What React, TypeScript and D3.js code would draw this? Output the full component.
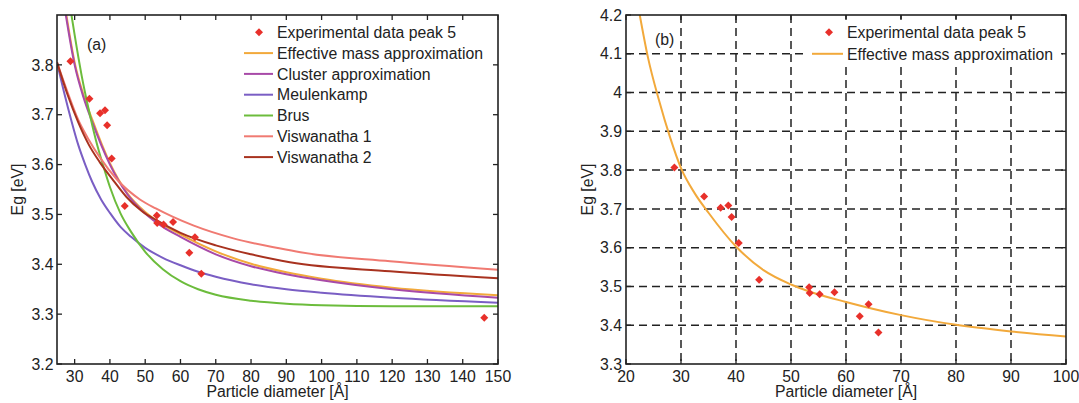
import React from 'react';
import * as d3 from 'd3';

// Experimental data peak 5
const expX = [28.8, 34.2, 37.2, 38.6, 39.2, 40.5, 44.2, 53.3, 53.4, 55.2, 57.9, 62.5, 64.1, 65.9, 146.1];
const expY = [3.807, 3.732, 3.703, 3.709, 3.679, 3.612, 3.517, 3.498, 3.483, 3.480, 3.485, 3.423, 3.454, 3.381, 3.293];

// Effective mass approximation
const emaX = [22.5, 24, 26, 28, 30, 32.5, 35, 40, 45, 50, 53.3, 60, 70, 80, 90, 100, 120, 150];
const emaY = [4.2, 4.09, 3.98, 3.885, 3.805, 3.74, 3.69, 3.603, 3.542, 3.505, 3.487, 3.46, 3.426, 3.401, 3.384, 3.371, 3.353, 3.338];

// Cluster approximation
const clusterX = [27.5, 30, 32.5, 35, 40, 45, 50, 55, 60, 70, 80, 90, 100, 120, 150];
const clusterY = [3.9, 3.8, 3.735, 3.685, 3.6, 3.54, 3.502, 3.475, 3.455, 3.42, 3.396, 3.38, 3.368, 3.35, 3.333];

// Meulenkamp
const meulX = [25, 27, 29, 31, 33, 35, 37.5, 40, 43, 46, 50, 55, 60, 65, 70, 80, 90, 100, 120, 150];
const meulY = [3.805, 3.745, 3.69, 3.64, 3.6, 3.565, 3.53, 3.503, 3.475, 3.455, 3.433, 3.413, 3.398, 3.385, 3.375, 3.36, 3.35, 3.343, 3.333, 3.323];

// Brus
const brusX = [29.1, 30, 32, 34, 36, 38, 40, 43, 46, 50, 55, 60, 65, 70, 80, 90, 100, 120, 150];
const brusY = [3.9, 3.86, 3.778, 3.71, 3.65, 3.6, 3.555, 3.502, 3.465, 3.425, 3.39, 3.366, 3.35, 3.339, 3.327, 3.321, 3.318, 3.316, 3.316];

// Viswanatha 1
const vis1X = [25, 28, 31, 34, 37.2, 42, 48.5, 53, 57.9, 63.6, 75, 88, 94, 119.4, 150];
const vis1Y = [3.805, 3.745, 3.69, 3.65, 3.614, 3.57, 3.53, 3.512, 3.495, 3.478, 3.452, 3.432, 3.424, 3.406, 3.389];

// Viswanatha 2
const vis2X = [25, 28, 31, 34, 37.2, 41, 44.7, 49, 53.3, 60, 70, 80, 91, 119.4, 150];
const vis2Y = [3.805, 3.74, 3.685, 3.64, 3.604, 3.568, 3.535, 3.507, 3.488, 3.463, 3.438, 3.42, 3.404, 3.386, 3.372];

const ticksAX = [30, 40, 50, 60, 70, 80, 90, 100, 110, 120, 130, 140, 150];
const ticksAY = [3.2, 3.3, 3.4, 3.5, 3.6, 3.7, 3.8];
const ticksBX = [20, 30, 40, 50, 60, 70, 80, 90, 100];
const ticksBY = [3.3, 3.4, 3.5, 3.6, 3.7, 3.8, 3.9, 4.0, 4.1, 4.2];

const legendA = ['Experimental data peak 5', 'Effective mass approximation', 'Cluster approximation', 'Meulenkamp', 'Brus', 'Viswanatha 1', 'Viswanatha 2'];
const legendB = ['Experimental data peak 5', 'Effective mass approximation'];

const RED = '#e8302a';
const colors: Record<string, string> = {
  ema: '#f2a93b',
  cluster: '#a84aa8',
  meul: '#7a5ec4',
  brus: '#6cbc3c',
  vis1: '#f07a72',
  vis2: '#a8321f',
};

const FONT = 'Liberation Sans, Arial, Helvetica, sans-serif';
const FS = 15.8;

function zip(xs: number[], ys: number[]): [number, number][] {
  return xs.map((x, i) => [x, ys[i]]);
}

function Diamond({ cx, cy }: { cx: number; cy: number }) {
  const r = 4;
  return <path d={`M${cx},${cy - r}L${cx + r},${cy}L${cx},${cy + r}L${cx - r},${cy}Z`} fill={RED} />;
}

const fmt = (v: number) => String(+v.toFixed(1));

export default function App() {
  // Panel a
  const L1 = 57, R1 = 498, T = 15, B = 364;
  const xA = d3.scaleLinear().domain([25, 150]).range([L1, R1]);
  const yA = d3.scaleLinear().domain([3.2, 3.9]).range([B, T]);
  // Panel b
  const L2 = 626, R2 = 1066;
  const xB = d3.scaleLinear().domain([20, 100]).range([L2, R2]);
  const yB = d3.scaleLinear().domain([3.3, 4.2]).range([B, T]);

  const lineA = d3.line<[number, number]>().x(d => xA(d[0])).y(d => yA(d[1])).curve(d3.curveMonotoneX);
  const lineB = d3.line<[number, number]>().x(d => xB(d[0])).y(d => yB(d[1])).curve(d3.curveMonotoneX);

  const seriesA = [
    { key: 'ema', xs: emaX, ys: emaY },
    { key: 'cluster', xs: clusterX, ys: clusterY },
    { key: 'meul', xs: meulX, ys: meulY },
    { key: 'brus', xs: brusX, ys: brusY },
    { key: 'vis1', xs: vis1X, ys: vis1Y },
    { key: 'vis2', xs: vis2X, ys: vis2Y },
  ];
  const tick = 5;

  return (
    <svg width={1079} height={403} style={{ position: 'absolute', left: 0, top: 0, background: '#fff' }} fontFamily={FONT} fontSize={FS}>
      <defs>
        <clipPath id="clipA"><rect x={L1} y={T} width={R1 - L1} height={B - T} /></clipPath>
        <clipPath id="clipB"><rect x={L2} y={T} width={R2 - L2} height={B - T} /></clipPath>
      </defs>

      {/* ===== Panel (a) ===== */}
      <g clipPath="url(#clipA)">
        {seriesA.map(s => (
          <path key={s.key} d={lineA(zip(s.xs, s.ys)) || ''} fill="none" stroke={colors[s.key]} strokeWidth={2} />
        ))}
        {expX.map((x, i) => <Diamond key={i} cx={xA(x)} cy={yA(expY[i])} />)}
      </g>
      <rect x={L1} y={T} width={R1 - L1} height={B - T} fill="none" stroke="#222" strokeWidth={1.6} />
      {ticksAX.map(v => (
        <g key={v}>
          <line x1={xA(v)} x2={xA(v)} y1={B} y2={B - tick} stroke="#222" strokeWidth={1.3} />
          <line x1={xA(v)} x2={xA(v)} y1={T} y2={T + tick} stroke="#222" strokeWidth={1.3} />
          <text x={xA(v)} y={381.5} textAnchor="middle" fill="#222">{v}</text>
        </g>
      ))}
      {ticksAY.map(v => (
        <g key={v}>
          <line x1={L1} x2={L1 + tick} y1={yA(v)} y2={yA(v)} stroke="#222" strokeWidth={1.3} />
          <line x1={R1} x2={R1 - tick} y1={yA(v)} y2={yA(v)} stroke="#222" strokeWidth={1.3} />
          <text x={53.5} y={yA(v) + 5.7} textAnchor="end" fill="#222">{fmt(v)}</text>
        </g>
      ))}
      <text x={(L1 + R1) / 2} y={397} textAnchor="middle" fill="#222">Particle diameter [Å]</text>
      <text transform={`translate(23,${(T + B) / 2}) rotate(-90)`} textAnchor="middle" fill="#222">Eg [eV]</text>
      <text x={87} y={50} fill="#222">(a)</text>
      {/* legend a */}
      <g>
        {legendA.map((lab, i) => {
          const y = 32.3 + i * 20.8;
          const key = ['exp', 'ema', 'cluster', 'meul', 'brus', 'vis1', 'vis2'][i];
          return (
            <g key={lab}>
              {key === 'exp'
                ? <Diamond cx={259} cy={y} />
                : <line x1={244} x2={273} y1={y} y2={y} stroke={colors[key]} strokeWidth={2} />}
              <text x={277} y={y + 5.7} fill="#222">{lab}</text>
            </g>
          );
        })}
      </g>

      {/* ===== Panel (b) ===== */}
      <g>
        {ticksBX.filter(v => v > 20 && v < 100).map(v => (
          <line key={v} x1={xB(v)} x2={xB(v)} y1={T} y2={B} stroke="#222" strokeWidth={1.5} strokeDasharray="8,5" />
        ))}
        {ticksBY.filter(v => v > 3.3 && v < 4.2).map(v => (
          <line key={v} x1={L2} x2={R2} y1={yB(v)} y2={yB(v)} stroke="#222" strokeWidth={1.5} strokeDasharray="8,5" />
        ))}
      </g>
      <g clipPath="url(#clipB)">
        <path d={lineB(zip(emaX, emaY)) || ''} fill="none" stroke={colors.ema} strokeWidth={2} />
        {expX.map((x, i) => <Diamond key={i} cx={xB(x)} cy={yB(expY[i])} />)}
      </g>
      {/* legend b */}
      <rect x={806} y={19} width={256} height={47} fill="#fff" />
      {legendB.map((lab, i) => {
        const y = 32.3 + i * 21.5;
        return (
          <g key={lab}>
            {i === 0
              ? <Diamond cx={829} cy={y} />
              : <line x1={812} x2={843} y1={y} y2={y} stroke={colors.ema} strokeWidth={2} />}
            <text x={847} y={y + 5.7} fill="#222">{lab}</text>
          </g>
        );
      })}
      <rect x={L2} y={T} width={R2 - L2} height={B - T} fill="none" stroke="#222" strokeWidth={1.6} />
      {ticksBX.map(v => (
        <g key={v}>
          <line x1={xB(v)} x2={xB(v)} y1={B} y2={B - tick} stroke="#222" strokeWidth={1.3} />
          <line x1={xB(v)} x2={xB(v)} y1={T} y2={T + tick} stroke="#222" strokeWidth={1.3} />
          <text x={xB(v)} y={381.5} textAnchor="middle" fill="#222">{v}</text>
        </g>
      ))}
      {ticksBY.map(v => (
        <g key={v}>
          <line x1={L2} x2={L2 + tick} y1={yB(v)} y2={yB(v)} stroke="#222" strokeWidth={1.3} />
          <line x1={R2} x2={R2 - tick} y1={yB(v)} y2={yB(v)} stroke="#222" strokeWidth={1.3} />
          <text x={622} y={yB(v) + 5.7} textAnchor="end" fill="#222">{fmt(v)}</text>
        </g>
      ))}
      <text x={(L2 + R2) / 2} y={397} textAnchor="middle" fill="#222">Particle diameter [Å]</text>
      <text transform={`translate(593,${(T + B) / 2}) rotate(-90)`} textAnchor="middle" fill="#222">Eg [eV]</text>
      <text x={655} y={45} fill="#222">(b)</text>
    </svg>
  );
}
